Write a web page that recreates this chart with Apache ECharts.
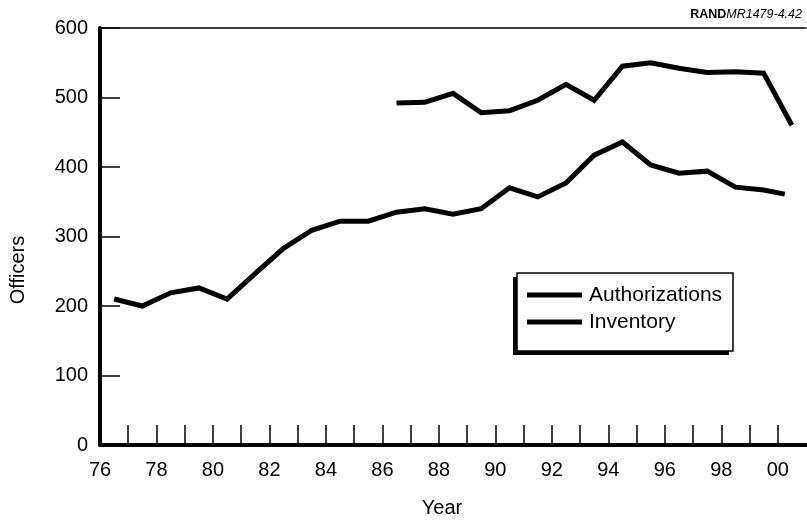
<!DOCTYPE html>
<html>
<head>
<meta charset="utf-8">
<script src="https://cdn.jsdelivr.net/npm/echarts@6/dist/echarts.min.js"></script>
<style>
html,body{margin:0;padding:0;background:#fff;}
#c{width:807px;height:523px;}
</style>
</head>
<body>
<div id="c"></div>
<script>
// Data (fiscal-year midpoints)
const invYears = [76.5,77.5,78.5,79.5,80.5,81.5,82.5,83.5,84.5,85.5,86.5,87.5,88.5,89.5,90.5,91.5,92.5,93.5,94.5,95.5,96.5,97.5,98.5,99.5,100.25];
const invValues = [210,200,219,226,210,247,283,309,322,322,335,340,332,340,370,357,377,417,436,403,391,394,371,367,361];
const authYears = [86.5,87.5,88.5,89.5,90.5,91.5,92.5,93.5,94.5,95.5,96.5,97.5,98.5,99.5,100.5];
const authValues = [492,493,506,478,481,496,519,496,545,550,542,536,537,535,460];
const xTickYears = [76,78,80,82,84,86,88,90,92,94,96,98,100];
const xTickLabels = ['76','78','80','82','84','86','88','90','92','94','96','98','00'];
const yTicks = [0,100,200,300,400,500,600];

const FONT = '"Liberation Sans", Arial, Helvetica, sans-serif';
const chart = echarts.init(document.getElementById('c'), null, {renderer:'canvas'});

const option = {
  animation: false,
  backgroundColor: '#fff',
  textStyle: {fontFamily: FONT, color: '#000'},
  grid: {left: 100, right: 1, top: 28, bottom: 78, containLabel: false},
  xAxis: [{
    type: 'value', min: 76, max: 101, interval: 1, position: 'bottom',
    axisLine: {show: true, lineStyle: {color: '#000', width: 4}},
    axisTick: {show: true, inside: true, length: 20, lineStyle: {color: '#000', width: 1.5}},
    axisLabel: {
      fontSize: 20, color: '#000', fontFamily: FONT, margin: 15,
      showMaxLabel: false,
      formatter: function (v) { const i = xTickYears.indexOf(Math.round(v)); return (i >= 0 && Math.abs(v - xTickYears[i]) < 1e-6) ? xTickLabels[i] : ''; }
    },
    splitLine: {show: false}
  }, {
    type: 'value', min: 76, max: 101, position: 'top',
    axisLine: {show: true, lineStyle: {color: '#000', width: 1.5}},
    axisTick: {show: false}, axisLabel: {show: false}, splitLine: {show: false}
  }],
  yAxis: {
    type: 'value', min: yTicks[0], max: yTicks[yTicks.length - 1], interval: 100,
    axisLine: {show: true, lineStyle: {color: '#000', width: 4}},
    axisTick: {show: true, inside: true, length: 20, lineStyle: {color: '#000', width: 1.5}},
    axisLabel: {fontSize: 20, color: '#000', fontFamily: FONT, margin: 12},
    splitLine: {show: false}
  },
  legend: {
    orient: 'vertical', left: 527, top: 284,
    padding: 0, z: 10,
    itemWidth: 55, itemHeight: 5, itemGap: 5,
    icon: 'rect',
    textStyle: {fontSize: 21, lineHeight: 22, color: '#000', fontFamily: FONT, padding: [0, 0, 0, 2]},
    data: ['Authorizations', 'Inventory']
  },
  graphic: [
    {type: 'rect', z: 1, shape: {x: 513, y: 277, width: 216, height: 78}, style: {fill: '#000'}},
    {type: 'rect', z: 2, shape: {x: 517, y: 273, width: 216, height: 78}, style: {fill: '#fff', stroke: '#000', lineWidth: 1.5}},
    {type: 'text', rotation: Math.PI / 2,
     style: {text: 'Officers', font: '20px ' + FONT, fill: '#000', textAlign: 'center', textVerticalAlign: 'middle'},
     x: 18, y: 270},
    {type: 'text', style: {text: 'Year', font: '20px ' + FONT, fill: '#000', textAlign: 'center', textVerticalAlign: 'middle'},
     x: 442, y: 508},
    {type: 'text', x: 802, y: 15,
     style: {
       text: '{b|RAND}{i|MR1479-4.42}',
       textAlign: 'right', textVerticalAlign: 'middle',
       rich: {
         b: {fontFamily: FONT, fontWeight: 'bold', fontSize: 12.5, fill: '#000'},
         i: {fontFamily: FONT, fontStyle: 'italic', fontSize: 12.5, fill: '#000'}
       }
     }}
  ],
  series: [
    {
      name: 'Authorizations', type: 'line', symbol: 'none',
      lineStyle: {color: '#000', width: 5, join: 'miter', cap: 'butt'},
      itemStyle: {color: '#000'},
      data: authYears.map((x, i) => [x, authValues[i]])
    },
    {
      name: 'Inventory', type: 'line', symbol: 'none',
      lineStyle: {color: '#000', width: 5, join: 'miter', cap: 'butt'},
      itemStyle: {color: '#000'},
      data: invYears.map((x, i) => [x, invValues[i]])
    }
  ]
};
chart.setOption(option);
</script>
</body>
</html>
